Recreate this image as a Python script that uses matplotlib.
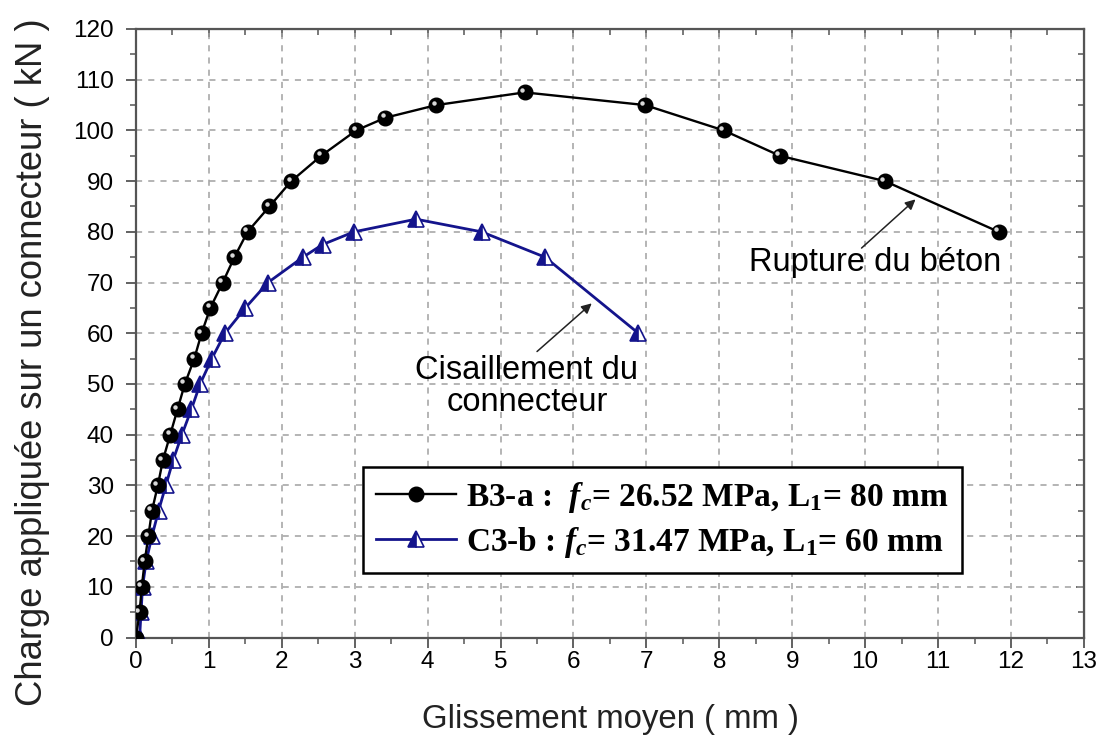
import numpy as np
import matplotlib
matplotlib.use('Agg')
import matplotlib.pyplot as plt
from matplotlib.transforms import offset_copy

# B3-a (black, circles)
b3_slip = [0, 0.05, 0.08, 0.12, 0.17, 0.22, 0.30, 0.37, 0.47, 0.57, 0.67, 0.80, 0.90,
           1.02, 1.19, 1.35, 1.53, 1.83, 2.13, 2.54, 3.02, 3.42, 4.12, 5.33,
           6.98, 8.06, 8.83, 10.27, 11.83]
b3_load = [0, 5, 10, 15, 20, 25, 30, 35, 40, 45, 50, 55, 60,
           65, 70, 75, 80, 85, 90, 95, 100, 102.5, 105, 107.5,
           105, 100, 95, 90, 80]

# C3-b (blue, triangles)
c3_slip = [0.05, 0.07, 0.09, 0.14, 0.22, 0.31, 0.41, 0.51, 0.63, 0.76, 0.88, 1.04,
           1.22, 1.50, 1.81, 2.29, 2.56, 2.99, 3.84, 4.74, 5.61, 6.89]
c3_load = [0, 5, 10, 15, 20, 25, 30, 35, 40, 45, 50, 55,
           60, 65, 70, 75, 77.5, 80, 82.5, 80, 75, 60]

labels = [r'B3-a :  $f_c$= 26.52 MPa, L$_{1}$= 80 mm',
          r'C3-b : $f_c$= 31.47 MPa, L$_{1}$= 60 mm']

x_ticks = np.arange(0, 14, 1)
y_ticks = np.arange(0, 121, 10)

plt.rcParams['font.family'] = 'Liberation Sans'
plt.rcParams['mathtext.fontset'] = 'custom'
plt.rcParams['mathtext.rm'] = 'Liberation Serif:bold'
plt.rcParams['mathtext.it'] = 'Liberation Serif:bold:italic'

fig = plt.figure(figsize=(11.08, 7.36), dpi=100)
ax = fig.add_axes([0.1227, 0.1338, 0.8556, 0.8268])

blue = '#14148c'
spine_c = '#555555'

l1, = ax.plot(b3_slip, b3_load, color='black', lw=1.7, marker='o', ms=10.5,
              mfc='black', mec='black', label=labels[0], zorder=4)
# highlight on the balls
hl = offset_copy(ax.transData, fig=fig, x=-1.8, y=1.8, units='points')
ax.plot(b3_slip, b3_load, ls='none', marker='o', ms=3.2, mfc='white', mec='none',
        alpha=0.85, transform=hl, zorder=5)

l2, = ax.plot(c3_slip, c3_load, color=blue, lw=2.0, marker='^', ms=12,
              fillstyle='left', mfc=blue, mfcalt='white', mec=blue, mew=1.2,
              label=labels[1], zorder=3)

ax.set_xlim(0, 13)
ax.set_ylim(0, 120)
ax.set_xticks(x_ticks)
ax.set_yticks(y_ticks)
ax.set_xticks(np.arange(0.5, 13, 1), minor=True)
ax.set_yticks(np.arange(5, 120, 10), minor=True)

ax.grid(True, which='major', color='#a0a0a0', ls=(0, (4, 4)), lw=1.1)

ax.tick_params(which='major', direction='out', length=7, width=1.3, color=spine_c,
               labelsize=17.5, pad=9)
ax.tick_params(which='minor', direction='out', length=4, width=1.1, color=spine_c)
ax.tick_params(axis='x', pad=3)

for s in ax.spines.values():
    s.set_color(spine_c)
    s.set_linewidth(1.6)

# top/right ticks pointing in
top = ax.secondary_xaxis('top')
top.set_xticks(x_ticks)
top.set_xticks(np.arange(0.5, 13, 1), minor=True)
top.tick_params(which='major', direction='in', length=6, width=1.2, color=spine_c, labeltop=False)
top.tick_params(which='minor', direction='in', length=4, width=1.1, color=spine_c)
top.spines['top'].set_color(spine_c)
right = ax.secondary_yaxis('right')
right.set_yticks(y_ticks)
right.set_yticks(np.arange(5, 120, 10), minor=True)
right.tick_params(which='major', direction='in', length=6, width=1.2, color=spine_c, labelright=False)
right.tick_params(which='minor', direction='in', length=4, width=1.1, color=spine_c)
right.spines['right'].set_color(spine_c)

ax.set_xlabel('Glissement moyen ( mm )', fontsize=23.8, color='#222222', labelpad=22)
ax.set_ylabel('Charge appliquée sur un connecteur ( kN )', fontsize=26.2, color='#222222')
ax.yaxis.set_label_coords(-0.091, 0.453)

# arrows and notes
ax.annotate('', xy=(10.69, 86.4), xytext=(9.95, 76.8),
            arrowprops=dict(arrowstyle='-|>', color='#222222', lw=1.1,
                            mutation_scale=15, shrinkA=0, shrinkB=0))
ax.text(10.13, 73.9, 'Rupture du béton', fontsize=23.5, ha='center', va='center')
ax.annotate('', xy=(6.25, 65.9), xytext=(5.50, 56.4),
            arrowprops=dict(arrowstyle='-|>', color='#222222', lw=1.1,
                            mutation_scale=15, shrinkA=0, shrinkB=0))
ax.text(5.36, 49.5, 'Cisaillement du\nconnecteur', fontsize=23.5, ha='center',
        va='center', linespacing=1.05)

leg = ax.legend(handles=[l1, l2], loc='upper left', bbox_to_anchor=(0.239, 0.281),
                borderaxespad=0, fancybox=False, edgecolor='black', framealpha=1,
                prop={'family': 'Liberation Serif', 'weight': 'bold', 'size': 24},
                handlelength=2.4, handletextpad=0.3, borderpad=0.4, labelspacing=0.3)
leg.get_frame().set_linewidth(1.8)

fig.savefig('out.png', dpi=100)
